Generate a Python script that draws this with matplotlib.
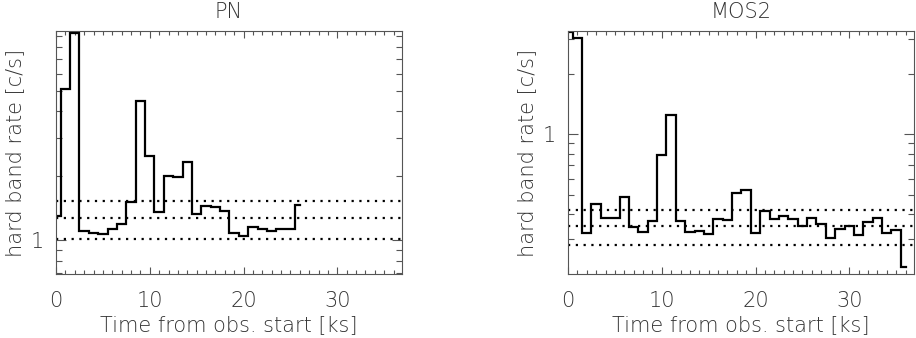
import numpy as np
import matplotlib
matplotlib.use("Agg")
import matplotlib.pyplot as plt
from matplotlib.ticker import LogLocator, FixedLocator, NullFormatter, MultipleLocator, FuncFormatter

# ---- data ----
pn_time = list(range(0, 27))
pn_rate = [1.295, 5.08, 9.25, 1.10, 1.075, 1.067, 1.122, 1.184, 1.50, 4.48,
           2.48, 1.35, 1.99, 1.98, 2.32, 1.32, 1.446, 1.426, 1.37, 1.075,
           1.044, 1.146, 1.13, 1.10, 1.13, 1.126, 1.458]
pn_levels = [1.01, 1.27, 1.52]

mos_time = list(range(0, 37))
mos_rate = [3.24, 3.04, 0.320, 0.447, 0.383, 0.383, 0.484, 0.345, 0.326, 0.370,
            0.785, 1.249, 0.368, 0.324, 0.328, 0.316, 0.377, 0.373, 0.511, 0.527,
            0.320, 0.415, 0.377, 0.390, 0.376, 0.348, 0.380, 0.356, 0.304, 0.338,
            0.348, 0.314, 0.363, 0.383, 0.322, 0.332, 0.218]
mos_levels = [0.28, 0.349, 0.418]

titles = ["PN", "MOS2"]
xlabel = "Time from obs. start [ks]"
ylabel = "hard band rate [c/s]"
xticks = [0, 10, 20, 30]

plt.rcParams['font.family'] = ['DejaVu Sans']
TXT = '#333333'
FS = 15
FW = 'light'

fig = plt.figure(figsize=(9.16, 3.38), dpi=100)
W, H = 916, 338
ax1 = fig.add_axes([56 / W, (H - 274) / H, 346 / W, 243 / H])
ax2 = fig.add_axes([568 / W, (H - 274) / H, 346 / W, 243 / H])

panels = [
    (ax1, pn_time, pn_rate, pn_levels, (0.694, 9.49)),
    (ax2, mos_time, mos_rate, mos_levels, (0.2004, 3.28)),
]

for (ax, t, r, lev, ylim), title in zip(panels, titles):
    ax.step(t, r, where='mid', color='black', lw=1.6, solid_joinstyle='miter')
    for v in lev:
        ax.axhline(v, color='black', lw=1.6, linestyle=(0, (1, 2.5)))
    ax.set_yscale('log')
    ax.set_ylim(*ylim)
    ax.set_xlim(0, 36.9)
    ax.xaxis.set_major_locator(FixedLocator(xticks))
    ax.xaxis.set_minor_locator(MultipleLocator(1))
    ax.yaxis.set_major_locator(LogLocator(base=10, subs=[1.0]))
    ax.yaxis.set_minor_locator(LogLocator(base=10, subs=np.arange(2, 10)))
    ax.yaxis.set_major_formatter(FuncFormatter(lambda v, p: "%g" % v))
    ax.yaxis.set_minor_formatter(NullFormatter())
    ax.tick_params(which='both', direction='in', top=True, right=True,
                   labelsize=FS, labelcolor=TXT, color='#555555', width=0.8)
    ax.tick_params(axis='x', which='major', length=5, pad=12)
    ax.tick_params(axis='x', which='minor', length=3)
    ax.tick_params(axis='y', which='major', length=7, pad=9)
    ax.tick_params(axis='y', which='minor', length=4)
    for lbl in ax.get_xticklabels() + ax.get_yticklabels():
        lbl.set_fontweight(FW)
    for s in ax.spines.values():
        s.set_color('#555555')
        s.set_linewidth(0.8)
    ax.set_title(title, fontsize=FS, color=TXT, pad=9, fontweight=FW)
    ax.set_xlabel(xlabel, fontsize=FS, color=TXT, labelpad=3, fontweight=FW)
    ax.set_ylabel(ylabel, fontsize=FS, color=TXT, labelpad=4, fontweight=FW)

fig.savefig("out.png", dpi=100)
